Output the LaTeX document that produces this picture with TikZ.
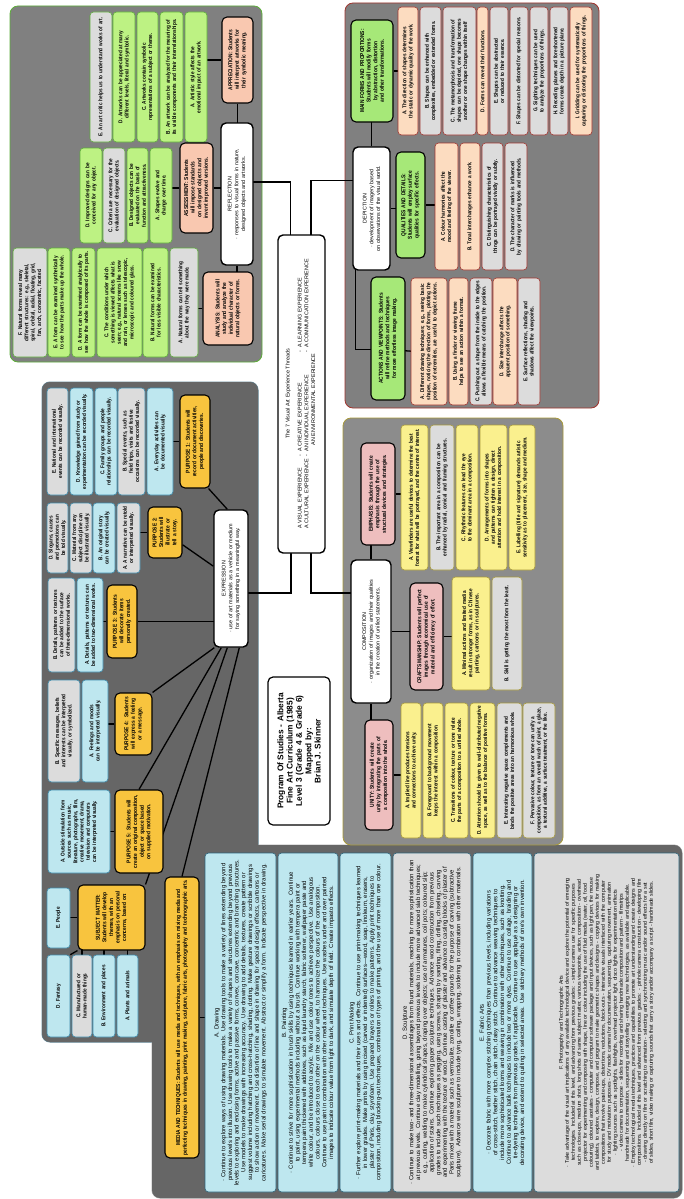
\documentclass[tikz,border=0pt]{standalone}
\usepackage{fontspec}
\setmainfont{Liberation Sans}
\newfontfamily\narrowsf{Liberation Sans}[FakeStretch=0.85]
\usetikzlibrary{calc}
\definecolor{panelG}{HTML}{808080}
\definecolor{panelD}{HTML}{666666}
\definecolor{panelC}{HTML}{8C8C8C}
\definecolor{leafG}{HTML}{BDF283}
\definecolor{headG}{HTML}{A6E878}
\definecolor{leafS}{HTML}{FCDCC0}
\definecolor{headS}{HTML}{F9C8B0}
\definecolor{leafX}{HTML}{DCDCDC}
\definecolor{leafB}{HTML}{BEE7EF}
\definecolor{headO}{HTML}{F8C43E}
\definecolor{headP}{HTML}{EEBEBE}
\definecolor{leafY}{HTML}{FAF08E}
\definecolor{edgeG}{HTML}{5DAE3A}
\definecolor{edgeR}{HTML}{A0342E}
\definecolor{edgeB}{HTML}{3F8FB0}
\definecolor{edgeY}{HTML}{A89A3A}
\newcommand{\leaffont}{\narrowsf\bfseries\fontsize{5.5}{6.3}\selectfont}
\newcommand{\headfont}{\narrowsf\bfseries\fontsize{5.7}{6.6}\selectfont}
\newcommand{\mediafont}{\fontsize{6}{6.7}\selectfont}
\newcommand{\smallmediafont}{\fontsize{5.3}{6}\selectfont}
\newcommand{\hubfont}{\fontsize{5.4}{6.8}\selectfont}
\newcommand{\titlefont}{\fontsize{8.3}{9.3}\selectfont\bfseries}
\pgfdeclarelayer{panel}
\pgfdeclarelayer{wire}
\pgfsetlayers{panel,wire,main}
\tikzset{
  leaf/.style={rotate=90, draw, rounded corners=3.5pt, line width=0.6pt, align=center, inner xsep=2pt, inner ysep=0.5pt, font=\leaffont},
  lgreen/.style={leaf, fill=leafG, draw=edgeG},
  lgrayG/.style={leaf, fill=leafX, draw=edgeG},
  lpeach/.style={leaf, fill=leafS, draw=edgeR},
  lgrayR/.style={leaf, fill=leafX, draw=edgeR},
  lblue/.style={leaf, fill=leafB, draw=edgeB},
  lgrayB/.style={leaf, fill=leafX, draw=edgeB},
  lyellow/.style={leaf, fill=leafY, draw=edgeY},
  lgrayY/.style={leaf, fill=leafX, draw=edgeY},
  lmblue/.style={lblue, draw=edgeB!70!black, font=\mediafont},
  lmgray/.style={leaf, fill=leafX, draw=edgeB!70!black, font=\mediafont},
  head/.style={rotate=90, draw=black, line width=1.1pt, rounded corners=5pt, align=center, inner sep=1.5pt, font=\headfont},
  hsalmon/.style={head, fill=headS},
  hgreen/.style={head, fill=headG},
  horange/.style={head, fill=headO},
  hpink/.style={head, fill=headP},
  hub/.style={head, fill=white, line width=1.4pt, font=\hubfont},
  panel/.style={rounded corners=8pt},
  link/.style={line width=1.3pt, black},
}
% box from its corners (x1,y1) (x2,y2) in picture pixels, text turned upright
\newcommand{\bx}[7]{%
  \pgfmathsetmacro\bxw{#5-#3}\pgfmathsetmacro\bxh{#6-#4}\pgfmathsetmacro\bxt{#6-#4-5}%
  \node[#1, minimum width=\bxh pt, minimum height=\bxw pt, text width=\bxt pt] (#2) at ({(#3+#5)/2},{(#4+#6)/2}) {#7};}
\begin{document}
\hyphenpenalty=10000
\exhyphenpenalty=10000
\begin{tikzpicture}[x=1pt, y=-1pt]
  \useasboundingbox (0,0) rectangle (683,1199);
  \begin{pgfonlayer}{panel}
    \fill[white] (0,0) rectangle (683,1199);
    \draw[panel, fill=panelG, draw=edgeG, line width=0.8pt] (10,6) rectangle (262,362);
    \draw[panel, fill=panelG, draw=edgeR, line width=0.8pt] (345,3) rectangle (599,408);
    \draw[panel, draw=edgeB!50!gray, line width=1pt] (42,382) rectangle (258,1042);
    \draw[panel, draw=gray!70, line width=1pt] (152,845) rectangle (682,1198);
    \fill[panel, panelD] (42,382) rectangle (258,1042);
    \fill[panel, panelD] (152,845) rectangle (682,1198);
    \draw[panel, fill=panelC, draw=edgeY, line width=0.8pt] (343,418) rectangle (563,845);
  \end{pgfonlayer}

  % centre and title
  \bx{hub}{threads}{278}{235}{325}{553}{The 7 Visual Art Experience Threads\\[5pt]
    \begin{tabular}{@{}l@{\enspace-\enspace}l@{\enspace-\enspace}l@{}}
      A VISUAL EXPERIENCE & A CREATIVE EXPERIENCE & A LEARNING EXPERIENCE\\
      A CULTURAL EXPERIENCE & AN INDIVIDUAL EXPERIENCE & A COMMUNICATION EXPERIENCE\\
      \multicolumn{1}{l}{} & \multicolumn{1}{l}{AN ENVIRONMENTAL EXPERIENCE} &
    \end{tabular}}
  \bx{hub, font=\titlefont, line width=1.2pt}{title}{268}{677}{330}{825}{Program Of Studies - Alberta\\ Fine Art Curriculum (1985)\\ Level 3 (Grade 4 \& Grade 6)\\ Mapped by:\\ Brian J. Skinner}

  % reflection
  \bx{hub}{refl}{221}{123}{253}{265}{REFLECTION\\ · responses to visual forms in nature, designed objects and artworks.}
  \bx{hsalmon}{appr}{222}{17}{253}{103}{APPRECIATION: Students will interpret artworks for their symbolic meaning.}
  \bx{lgrayG}{aprE}{90}{12}{112}{142}{E. An art critic helps us to understand works of art.}
  \bx{lgreen}{aprD}{113}{12}{135}{142}{D. Artworks can be appreciated at many different levels, literal and symbolic.}
  \bx{lgreen}{aprC}{137}{12}{158}{142}{C. Artworks contain symbolic representations of a subject or theme.}
  \bx{lgreen}{aprB}{160}{12}{183}{142}{B. An artwork can be analyzed for the meaning of its visible components and their interrelationships.}
  \bx{lgreen}{aprA}{185}{12}{207}{142}{A. Artistic style affects the emotional impact of an artwork.}
  \bx{hsalmon}{assess}{180}{143}{213}{233}{ASSESSMENT: Students will impose standards on designed objects and invent improved versions.}
  \bx{lgreen}{asD}{80}{148}{102}{243}{D. Improved designs can be conceived for any object.}
  \bx{lgrayG}{asC}{103}{148}{125}{243}{C. Criteria are necessary for the evaluation of designed objects.}
  \bx{lgreen}{asB}{127}{148}{148}{243}{B. Designed objects can be evaluated on the basis of function and attractiveness.}
  \bx{lgreen}{asA}{150}{148}{172}{243}{A. Shapes evolve and change over time.}
  \bx{hsalmon}{anal}{203}{272}{253}{345}{ANALYSIS: Students will study and analyze the individual character of natural objects or forms.}
  \bx{lgrayG}{anF}{13}{248}{47}{357}{F. Natural forms reveal many different structures: e.g., skeletal, spiral, orbital, radial, floating, grid, fan, arch, concentric, faceted.}
  \bx{lgreen}{anE}{48}{248}{70}{357}{E. A form can be examined synthetically to see how the parts make up the whole.}
  \bx{lgreen}{anD}{72}{248}{95}{357}{D. A form can be examined analytically to see how the whole is composed of its parts.}
  \bx{lgreen}{anC}{97}{248}{142}{357}{C. The conditions under which something is viewed affects what is seen; e.g., natural screens like snow and rain, or lenses such as telescopic, microscopic and coloured glass.}
  \bx{lgreen}{anB}{143}{248}{168}{357}{B. Natural forms can be examined for less visible characteristics.}
  \bx{lgrayG}{anA}{170}{248}{198}{357}{A. Natural forms can tell something about the way they were made.}

  % depiction
  \bx{hub}{depic}{353}{147}{390}{270}{DEPICTION\\ · development of imagery based on observations of the visual world.}
  \bx{hgreen}{mainf}{351}{20}{393}{122}{MAIN FORMS AND PROPORTIONS: Students will modify forms by abstraction, distortion and other transformations.}
  \bx{lpeach}{mfA}{398}{7}{418}{135}{A. The direction of shapes determines the static or dynamic quality of the work.}
  \bx{lgrayR}{mfB}{420}{7}{441}{135}{B. Shapes can be enhanced with complexities, embedded or extended forms.}
  \bx{lgrayR}{mfC}{443}{7}{476}{135}{C. The metamorphosis and transformation of shapes can be depicted, one shape becomes another or one shape changes within itself}
  \bx{lpeach}{mfD}{477}{7}{488}{135}{D. Forms can reveal their functions.}
  \bx{lgrayR}{mfE}{490}{7}{508}{135}{E. Shapes can be abstracted or reduced to their essence.}
  \bx{lgrayR}{mfF}{510}{7}{528}{135}{F. Shapes can be distorted for special reasons.}
  \bx{lgrayR}{mfG}{530}{7}{548}{135}{G. Sighting techniques can be used to analyze the proportions of things.}
  \bx{lgrayR}{mfH}{550}{7}{568}{135}{H. Receding planes and foreshortened forms create depth in a picture plane.}
  \bx{lpeach}{mfI}{570}{7}{592}{135}{I. Gridding can be used for systematically capturing or distorting the proportions of things.}
  \bx{hgreen}{qual}{396}{152}{425}{258}{QUALITIES AND DETAILS: Students will employ surface qualities for specific effects.}
  \bx{lpeach}{qdA}{435}{143}{458}{270}{A. Colour harmonies affect the mood and feeling of the viewer.}
  \bx{lpeach}{qdB}{460}{143}{480}{270}{B. Tonal interchanges enhance a work.}
  \bx{lgrayR}{qdC}{482}{143}{503}{270}{C. Distinguishing characteristics of things can be portrayed vividly or subtly.}
  \bx{lgrayR}{qdD}{505}{143}{527}{270}{D. The character of marks is influenced by drawing or painting tools and methods.}
  \bx{hgreen}{actv}{371}{277}{405}{400}{ACTIONS AND VIEWPOINTS: Students will refine methods and techniques for more effortless image making.}
  \bx{lpeach}{avA}{411}{278}{447}{405}{A. Different drawing techniques; e.g., seeing basic shapes, noticing the direction of forms, plotting the position of extremities, are useful to depict actions.}
  \bx{lpeach}{avB}{449}{278}{468}{405}{B. Using a finder or viewing frame helps to see an action within a format.}
  \bx{lgrayR}{avC}{470}{278}{492}{405}{C. Pushing out a shape from the inside to the edges allows a flexible means of catching the position.}
  \bx{lpeach}{avD}{493}{278}{517}{405}{D. Size interchange affects the apparent position of something.}
  \bx{lgrayR}{avE}{518}{278}{540}{405}{E. Surface reflections, shading and shadows affect the viewpoints.}

  % expression
  \bx{hub}{expr}{214}{510}{248}{647}{EXPRESSION\\ · use of art materials as a vehicle or medium for saying something in a meaningful way.}
  \bx{horange}{p1}{180}{395}{210}{488}{PURPOSE 1: Students will record or document activities, people and discoveries.}
  \bx{lgrayB}{p1E}{47}{388}{68}{495}{E. National and international events can be recorded visually.}
  \bx{lblue}{p1D}{70}{388}{93}{495}{D. Knowledge gained from study or experimentation can be recorded visually.}
  \bx{lblue}{p1C}{95}{388}{117}{495}{C. Family groups and people relationships can be recorded visually.}
  \bx{lgrayB}{p1B}{118}{388}{145}{495}{B. Special events, such as field trips, visits and festive occasions can be recorded visually.}
  \bx{lblue}{p1A}{147}{388}{173}{495}{A. Everyday activities can be documented visually.}
  \bx{horange}{p2}{148}{507}{182}{558}{PURPOSE 2: Students will illustrate or tell a story.}
  \bx{lgrayB}{p2D}{47}{503}{68}{573}{D. Slogans, causes and promotions can be told visually.}
  \bx{lgrayB}{p2C}{70}{503}{92}{573}{C. Material from any subject discipline can be illustrated visually.}
  \bx{lblue}{p2B}{93}{503}{115}{573}{B. An original story can be created visually.}
  \bx{lgrayB}{p2A}{117}{503}{140}{573}{A. A narrative can be retold or interpreted visually.}
  \bx{horange}{p3}{107}{585}{137}{658}{PURPOSE 3: Students will decorate items personally created.}
  \bx{lgrayB}{p3B}{48}{578}{75}{672}{B. Details, patterns or textures can be added to the surface of three-dimensional works.}
  \bx{lblue}{p3A}{77}{578}{103}{672}{A. Details, patterns or textures can be added to two-dimensional works.}
  \bx{horange}{p4}{115}{693}{152}{755}{PURPOSE 4: Students will express a feeling or a message.}
  \bx{lgrayB}{p4B}{48}{680}{80}{782}{B. Specific messages, beliefs and interests can be interpreted visually, or symbolized.}
  \bx{lblue}{p4A}{82}{680}{108}{782}{A. Feelings and moods can be interpreted visually.}
  \bx{horange}{p5}{115}{790}{163}{873}{PURPOSE 5: Students will create an original composition, object or space based on supplied motivation.}
  \bx{lblue}{p5A}{48}{790}{110}{873}{A. Outside stimulation from sources such as music, literature, photographs, film, creative movement, drama, television and computers can be interpreted visually.}
  \bx{horange}{subj}{78}{885}{145}{950}{SUBJECT MATTER: Students will develop themes, with an emphasis on personal concerns, based on:}
  \bx{lblue}{smE}{47}{888}{70}{948}{E. People}
  \bx{lblue}{smD}{47}{955}{70}{1037}{D. Fantasy}
  \bx{lgrayB}{smC}{72}{955}{92}{1037}{C. Manufactured or human-made things}
  \bx{lblue}{smB}{93}{955}{115}{1037}{B. Environment and places}
  \bx{lblue}{smA}{117}{955}{138}{1037}{A. Plants and animals}

  % media and techniques
  \bx{horange}{media}{165}{877}{199}{1158}{MEDIA AND TECHNIQUES: Students will use media and techniques, with an emphasis on mixing media and perfecting techniques in drawing, painting, print making, sculpture, fabric arts, photography and technographic arts.}
  \bx{lmblue}{mdA}{205}{853}{276}{1192}{A. Drawing\\ · Continue to explore ways of using drawing materials. Use drawing tools to make a variety of lines extending beyond previous levels into illusion. Use drawing tools to make a variety of shapes and structures extending beyond previous levels to exploring and enclosing forms, active and passive forms, convex, concave, concentric and branching structures. Use models to make drawings with increasing accuracy. Use drawing to add details, textures, create pattern or suggest volume including hatching and cross-hatching, shading, dotting. Make gesture drawings or scribble drawings to show action or movement. Use distortion of line and shape in drawing for special design effects, cartoons or caricatures. Make serial drawings to simulate movement. Abstract or simplify a form. Indicate perspective in drawing.}
  \bx{lmblue}{mdB}{278}{853}{338}{1192}{B. Painting\\ · Continue to strive for more sophistication in brush skills by using techniques learned in earlier years. Continue to paint, using experimental methods including without a brush. Continue working with tempera paint or tempera paint thickened with additives, such as liquid laundry starch, fabric softener, wallpaper paste and white colour, and be introduced to acrylic. Mix and use colour tones to achieve perspective. Use analogous colours, colours close to each other on the colour wheel, to harmonize the colours of the composition. Continue to use paint in combination with other media and techniques. Use washes under and over painted images to indicate colour value from light to dark, and simulate depth of field. Create impasto effects.}
  \bx{lmblue}{mdC}{340}{853}{391}{1192}{C. Print Making\\ · Further explore print-making materials and their uses and effects. Continue to use print-making techniques learned in lower grades. Make prints by using incised (carved or indented) surfaces---wood, soap, linoleum, erasers, plaster of Paris, clay, styrofoam. Use prepared brayers or rollers to make patterns. Apply print techniques to composition, including blocking-out techniques, combination of types of printing, and the use of more than one colour.}
  \bx{lmgray}{mdD}{393}{853}{471}{1192}{D. Sculpture\\ · Continue to make two- and three-dimensional assemblages from found materials, reaching for more sophistication than at previous levels. Continue clay modelling, going beyond previous levels to include more advanced slab techniques; e.g., cutting, welding to make cylindrical shapes, draping over objects; use of armatures, coil pots; coloured slip; application of stains. Continue exploring paper sculpture techniques. Advance wood construction from previous grades to include such techniques as pegging, using screws, shaping by sanding, filing, drilling, chiseling, carving and experimenting with the texture of wood. Continue casting of plaster and advance to casting blocks of plaster of Paris mixed with a material such as vermiculite, zonolite or coffee grounds for the purpose of carving (subtractive sculpture). Advance wire sculpture to include tying, coiling, wrapping, soldering in combination with other materials.}
  \bx{lmblue}{mdE}{473}{853}{532}{1192}{E. Fabric Arts\\ · Decorate fabric with more complex stitching techniques than previous levels, including variations of cross-stitch, feather stitch, chain stitch, daisy stitch. Continue to advance weaving techniques to include more sophisticated looms and weaving in combination with other techniques, such as knotting. Continue to advance batik techniques to include two or more dyes. Continue to use collage, braiding and tie-dyeing techniques from previous grades, if applicable. Continue to use appliqué as a designing or decorating device, and extend to quilting in selected areas. Use stitchery methods of one's own invention.}
  \bx{lmgray, font=\smallmediafont}{mdF}{534}{853}{679}{1192}{F. Photography and Technographic Arts\\ · Take advantage of the visual art implications of any available technological device and explore the potential of emerging technologies. Included at this level, and advancing from previous grades: - simple camera use for specific purposes such as close-ups, medium shots, long shots of same subject matter, various viewpoints, action, composition - overhead projector for experimenting and composing with shape, line or colour including the use of fluid media (water, oil, food colouring), coloured acetates - computer and computer software package and input devices, such as light pen, the mouse and tablets, to explore, design, compose, and program to make geometric shapes and designs - copying devices for making compositions that involve paste-ups, distortions, reductions, block-outs - interactive visuals interfaced with the computer for study and motivation purposes - DV mode camera for documentation, sequencing, capturing movement, animation\\ · lighting sources such as spotlights, flashlights, overhead projector light, disco lights for experimentation effects - video camera to compose - slides for recording and sharing handmade composition and pattern - filmstrips handmade for documentation, sequencing and storytelling - emerging new technologies, as available and applicable.\\ · Employ technological media techniques, practices and capabilities to promote art understanding and create designs and compositions. Included at this level and advanced from previous grades: - pinhole camera construction - developing film - drawing directly on film or scratching to animation - selecting and synchronizing music and/or sound effects for a set of slides, short film, video making or capturing sounds that carry a story and/or accompany a script - handmade slides.}

  % composition
  \bx{hub}{comp}{351}{560}{391}{703}{COMPOSITION\\ · organization of images and their qualities in the creation of unified statements.}
  \bx{hpink}{emph}{361}{443}{395}{545}{EMPHASIS: Students will create emphasis through the use of structural devices and strategies.}
  \bx{lyellow}{emA}{401}{425}{428}{570}{A. Viewfinders are useful devices to determine the best format for what will be portrayed, and the centre of interest.}
  \bx{lgrayY}{emB}{430}{425}{454}{570}{B. The important area in a composition can be enhanced by radial, conical and framing structures.}
  \bx{lyellow}{emC}{456}{425}{478}{570}{C. Rhythmic features can lead the eye to the dominant area in a composition.}
  \bx{lyellow}{emD}{480}{425}{507}{570}{D. Arrangements of forms into shapes and patterns can tighten a design, direct attention and hold interest in a composition.}
  \bx{lyellow}{emE}{509}{425}{535}{570}{E. Labelling (title and signature) demands artistic sensitivity as to placement, size, shape and medium.}
  \bx{hpink}{craft}{410}{583}{443}{690}{CRAFTSMANSHIP: Students will perfect images through economical use of material and efficiency of effort.}
  \bx{lyellow}{crA}{452}{577}{490}{690}{A. Minimal actions and limited media result in stronger forms, as in Chinese painting, cartoons or in sculptures.}
  \bx{lgrayY}{crB}{492}{577}{522}{690}{B. Skill is getting the most from the least.}
  \bx{hpink}{unity}{365}{720}{393}{830}{UNITY: Students will create unity by integrating the parts of a composition into the whole.}
  \bx{lyellow}{unA}{401}{703}{421}{838}{A. Implied line produces tensions and connections to achieve unity.}
  \bx{lyellow}{unB}{423}{703}{443}{838}{B. Foreground to background movement keeps the interest within a composition.}
  \bx{lyellow}{unC}{445}{703}{468}{838}{C. Transitions of colour, texture or tone relate the parts of a composition to a unified whole.}
  \bx{lyellow}{unD}{470}{703}{495}{838}{D. Attention should be given to well-distributed negative space, as well as to the balance of positive forms.}
  \bx{lgrayY}{unE}{497}{703}{522}{838}{E. Interesting negative space complements and binds the positive areas into an harmonious whole.}
  \bx{lgrayY}{unF}{523}{703}{555}{838}{F. Pervasive colour, texture or tone can unify a composition, as from an overall wash of paint, a glaze, a textural additive, a surface treatment, or the like.}

  \begin{pgfonlayer}{wire}
    % threads to the four strands
    \draw[link] ([yshift=12pt]refl.center) -| ([xshift=-11pt]threads.center);
    \draw[link] ([xshift=9.5pt]threads.center) |- ([yshift=28pt]depic.center);
    \draw[link] ([xshift=-10.5pt]threads.center) |- ([yshift=-14.5pt]expr.center);
    \draw[link] ([xshift=9.5pt]threads.center) |- ([yshift=38.5pt]comp.center);
    % reflection
    \draw[link] (appr) -- (appr |- refl);
    \draw[link] (assess) -- (assess -| refl);
    \draw[link] (refl) -- (refl |- anal);
    \draw[link] (appr) -- (appr -| aprA);
    \draw[link] (assess) -- (assess -| asA);
    \draw[link] (anal) -- (anal -| anA);
    % depiction
    \draw[link] (depic) -- (depic |- mainf);
    \draw[link] (mainf) -- (mainf -| mfA);
    \draw[link] (depic) -- (depic -| qual);
    \draw[link] (qual) -- (qual -| qdA);
    \draw[link] ([xshift=-16pt]depic.center) |- ([yshift=-11pt]actv.center);
    \draw[link] ([yshift=-11pt]actv.center) -- ([yshift=-11pt]avA.center);
    % expression
    \draw[link] ([xshift=-2pt]p1.south west) -- ([xshift=14pt]expr.north east);
    \draw[link] (p2) -- (expr);
    \draw[link] (p3) -- (p3 -| expr);
    \draw[link] (p4.south east) -- ([xshift=1pt]expr.north west);
    \draw[link] (p5.east) -- ([xshift=8pt]expr.north west);
    \draw[link] (subj.south east) -- ([xshift=14pt]expr.north west);
    \draw[link] (media.east) -- ([xshift=26pt]expr.north west);
    \draw[link] (p1) -- (p1 -| p1A);
    \draw[link] (p2) -- (p2 -| p2A);
    \draw[link] (p3) -- (p3 -| p3A);
    \draw[link] (p4) -- (p4 -| p4A);
    \draw[link] (p5) -- (p5 -| p5A);
    \draw[link] (subj) -- (subj -| smE);
    \draw[link] (smD.south east) -- (subj.north west);
    \draw[link] (smC) -- (smC |- subj);
    \draw[link] (smB) -- (smB |- subj);
    \draw[link] (smA) -- (smA |- subj);
    \draw[link] (media) -- (media -| mdA);
    % composition
    \draw[link] (comp) -- (comp |- emph);
    \draw[link] (comp) -- (comp |- unity);
    \draw[link] (comp) -- (comp -| craft);
    \draw[link] (emph) -- (emph -| emA);
    \draw[link] (craft) -- (craft -| crA);
    \draw[link] (unity) -- (unity -| unA);
  \end{pgfonlayer}
\end{tikzpicture}
\end{document}
